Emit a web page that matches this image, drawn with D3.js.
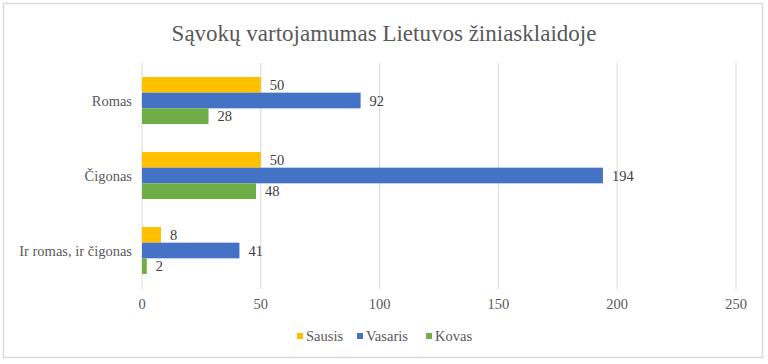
<!DOCTYPE html>
<html><head><meta charset="utf-8">
<script src="https://cdn.jsdelivr.net/npm/d3@7"></script>
<style>body{margin:0;background:#fff} text{font-family:"Liberation Serif","Times New Roman",serif}</style>
</head><body>
<script>
const title = "Sąvokų vartojamumas Lietuvos žiniasklaidoje";
const categories = ["Romas", "Čigonas", "Ir romas, ir čigonas"];
const seriesNames = ["Sausis", "Vasaris", "Kovas"];
const sausis = [50, 50, 8];
const vasaris = [92, 194, 41];
const kovas = [28, 48, 2];
const colors = ["#FFC000", "#4472C4", "#70AD47"];
const xTicks = [0, 50, 100, 150, 200, 250];

const W = 768, H = 364;
const svg = d3.select("body").append("svg").attr("width", W).attr("height", H);
const fs = 14.5;

svg.append("rect").attr("x", 0).attr("y", 0).attr("width", W).attr("height", H).attr("fill", "#fff");
svg.append("rect").attr("x", 3.5).attr("y", 3.5).attr("width", 759).attr("height", 354)
  .attr("fill", "#fff").attr("stroke", "#d9d9d9").attr("stroke-width", 1.5);

svg.append("text").attr("x", 384).attr("y", 41).attr("text-anchor", "middle")
  .attr("font-size", 23).attr("fill", "#595959").text(title);

const x = d3.scaleLinear().domain([0, 250]).range([142, 736]);
const y = d3.scaleBand().domain(categories).range([63, 288]);
const inner = d3.scaleBand().domain(seriesNames).range([14, 75 - 14]);

// gridlines
svg.append("g").selectAll("line").data(xTicks).join("line")
  .attr("x1", d => x(d)).attr("x2", d => x(d)).attr("y1", 63).attr("y2", 289)
  .attr("stroke", "#d9d9d9").attr("stroke-width", 1);

// tick labels
svg.append("g").selectAll("text").data(xTicks).join("text")
  .attr("x", d => x(d)).attr("y", 309).attr("text-anchor", "middle")
  .attr("font-size", fs).attr("fill", "#595959").text(d => d);

// category labels
svg.append("g").selectAll("text").data(categories).join("text")
  .attr("x", 132).attr("y", d => y(d) + y.bandwidth() / 2 + 5).attr("text-anchor", "end")
  .attr("font-size", fs).attr("fill", "#595959").text(d => d);

const series = [sausis, vasaris, kovas];
series.forEach((vals, si) => {
  const g = svg.append("g");
  const data = categories.map((c, i) => ({c, v: vals[i]}));
  g.selectAll("rect").data(data).join("rect")
    .attr("x", x(0)).attr("y", d => y(d.c) + inner(seriesNames[si]))
    .attr("width", d => x(d.v) - x(0)).attr("height", inner.bandwidth())
    .attr("fill", colors[si]);
  g.selectAll("text").data(data).join("text")
    .attr("x", d => x(d.v) + 9).attr("y", d => y(d.c) + inner(seriesNames[si]) + inner.bandwidth() / 2 + 5)
    .attr("font-size", fs).attr("fill", "#404040").text(d => d.v);
});

// legend
const legendX = [297, 357, 426];
const lg = svg.append("g");
seriesNames.forEach((s, i) => {
  lg.append("rect").attr("x", legendX[i]).attr("y", 333).attr("width", 6).attr("height", 6).attr("fill", colors[i]);
  lg.append("text").attr("x", legendX[i] + 9).attr("y", 341)
    .attr("font-size", fs).attr("fill", "#595959").text(s);
});
</script>
</body></html>
